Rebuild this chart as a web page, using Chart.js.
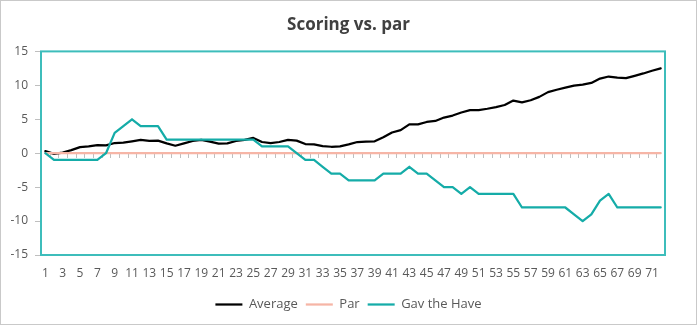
<!DOCTYPE html>
<html lang="en">
<head>
  <meta charset="UTF-8" />
  <title>Scoring vs. par</title>
  <script src="https://cdn.jsdelivr.net/npm/chart.js"></script>
  <style>
    html, body { margin: 0; padding: 0; background: #fff; }
    .wrap { width: 697px; height: 325px; }
    canvas { display: block; }
  </style>
</head>
<body>
  <div class="wrap"><canvas id="scoreChart" width="697" height="325"></canvas></div>

  <script>
    // holes played, 1..72
    const rounds = [
      1, 2, 3, 4, 5, 6, 7, 8, 9, 10, 11, 12, 13, 14, 15, 16, 17, 18,
      19, 20, 21, 22, 23, 24, 25, 26, 27, 28, 29, 30, 31, 32, 33, 34, 35, 36,
      37, 38, 39, 40, 41, 42, 43, 44, 45, 46, 47, 48, 49, 50, 51, 52, 53, 54,
      55, 56, 57, 58, 59, 60, 61, 62, 63, 64, 65, 66, 67, 68, 69, 70, 71, 72
    ];

    const avgScore = [
      0.3, -0.1, 0.1, 0.45, 0.9, 1.0, 1.2, 1.15, 1.5, 1.55, 1.75, 1.95, 1.8, 1.85, 1.45, 1.1, 1.45, 1.8,
      1.95, 1.7, 1.4, 1.45, 1.8, 1.95, 2.25, 1.65, 1.5, 1.65, 1.95, 1.85, 1.35, 1.3, 1.05, 0.95, 1.0, 1.3,
      1.65, 1.7, 1.75, 2.35, 3.05, 3.4, 4.25, 4.25, 4.6, 4.75, 5.25, 5.55, 6.0, 6.35, 6.35, 6.55, 6.8, 7.1,
      7.75, 7.5, 7.8, 8.3, 9.0, 9.35, 9.65, 9.95, 10.1, 10.35, 11.0, 11.3, 11.15, 11.05, 11.4, 11.75, 12.15, 12.5
    ];

    const parScore = [
      0, 0, 0, 0, 0, 0, 0, 0, 0, 0, 0, 0, 0, 0, 0, 0, 0, 0,
      0, 0, 0, 0, 0, 0, 0, 0, 0, 0, 0, 0, 0, 0, 0, 0, 0, 0,
      0, 0, 0, 0, 0, 0, 0, 0, 0, 0, 0, 0, 0, 0, 0, 0, 0, 0,
      0, 0, 0, 0, 0, 0, 0, 0, 0, 0, 0, 0, 0, 0, 0, 0, 0, 0
    ];

    const gavScore = [
      0, -1, -1, -1, -1, -1, -1, 0, 3, 4, 5, 4, 4, 4, 2, 2, 2, 2,
      2, 2, 2, 2, 2, 2, 2, 1, 1, 1, 1, 0, -1, -1, -2, -3, -3, -4,
      -4, -4, -4, -3, -3, -3, -2, -3, -3, -4, -5, -5, -6, -5, -6, -6, -6, -6,
      -6, -8, -8, -8, -8, -8, -8, -9, -10, -9, -7, -6, -8, -8, -8, -8, -8, -8
    ];

    const yMin = -15, yMax = 15, yStep = 5;

    const textGrey = '#595959';
    const axisGrey = '#bfbfbf';
    const font = "'Segoe UI', 'Open Sans', sans-serif";

    // teal plot frame, outer chart border and the little category ticks on the zero line
    const plotFrame = {
      id: 'plotFrame',
      beforeDatasetsDraw(chart) {
        const { ctx, chartArea: a, scales: { x, y } } = chart;
        const y0 = Math.round(y.getPixelForValue(0));
        const step = x.width / rounds.length;
        ctx.save();
        ctx.strokeStyle = axisGrey;
        ctx.lineWidth = 1;
        ctx.beginPath();
        for (let i = 0; i <= rounds.length; i++) {
          const px = Math.round(a.left + i * step) + 0.5;
          ctx.moveTo(px, y0);
          ctx.lineTo(px, y0 + 5);
        }
        ctx.stroke();
        ctx.restore();
      },
      afterDraw(chart) {
        const { ctx, chartArea: a, width, height } = chart;
        ctx.save();
        ctx.strokeStyle = '#3dbdbb';
        ctx.lineWidth = 2;
        ctx.strokeRect(a.left, a.top, a.right - a.left, a.bottom - a.top);
        ctx.strokeStyle = '#c9c9c9';
        ctx.lineWidth = 1;
        ctx.strokeRect(0.5, 0.5, width - 1, height - 1);
        ctx.restore();
      }
    };

    new Chart(document.getElementById('scoreChart'), {
      type: 'line',
      data: {
        labels: rounds,
        datasets: [
          {
            label: 'Average',
            data: avgScore,
            borderColor: '#000000',
            backgroundColor: '#000000',
            borderWidth: 2.25,
            order: 2
          },
          {
            label: 'Par',
            data: parScore,
            borderColor: '#f6b5a6',
            backgroundColor: '#f6b5a6',
            borderWidth: 2.25,
            order: 1
          },
          {
            label: 'Gav the Have',
            data: gavScore,
            borderColor: '#15aca8',
            backgroundColor: '#15aca8',
            borderWidth: 2.25,
            order: 0
          }
        ]
      },
      options: {
        responsive: false,
        animation: false,
        devicePixelRatio: 1,
        layout: { padding: { left: 0, right: 0, top: 0, bottom: 4 } },
        elements: {
          point: { radius: 0 },
          line: { tension: 0, borderJoinStyle: 'round', borderCapStyle: 'round' }
        },
        plugins: {
          title: {
            display: true,
            text: 'Scoring vs. par',
            color: '#404040',
            font: { family: font, size: 17, weight: 'bold' },
            padding: { top: 15, bottom: 16 }
          },
          legend: {
            position: 'bottom',
            labels: {
              usePointStyle: true,
              pointStyle: 'line',
              pointStyleWidth: 27,
              boxHeight: 12,
              padding: 8,
              color: textGrey,
              font: { family: font, size: 13 },
              sort: (a, b) => a.datasetIndex - b.datasetIndex
            }
          },
          tooltip: { enabled: false }
        },
        scales: {
          x: {
            type: 'category',
            offset: true,
            border: { display: false },
            grid: { display: false, drawTicks: false },
            ticks: {
              autoSkip: false,
              maxRotation: 0,
              padding: 11,
              color: textGrey,
              font: { family: font, size: 12 },
              callback: (val, i) => (i % 2 === 0 ? rounds[i] : '')
            },
            afterFit: s => { s.height = 35; }
          },
          y: {
            min: yMin,
            max: yMax,
            border: { display: false },
            grid: { drawOnChartArea: false, drawTicks: true, tickLength: 6, color: axisGrey },
            ticks: {
              stepSize: yStep,
              padding: 7,
              color: textGrey,
              font: { family: font, size: 12 }
            },
            afterFit: s => { s.width = 41; }
          },
          // empty right-hand gutter so the title and legend stay centred on the canvas
          gutter: {
            position: 'right',
            display: true,
            min: yMin,
            max: yMax,
            border: { display: false },
            grid: { display: false, drawTicks: false },
            ticks: { display: false },
            afterFit: s => { s.width = 32; }
          }
        }
      },
      plugins: [plotFrame]
    });
  </script>
</body>
</html>
